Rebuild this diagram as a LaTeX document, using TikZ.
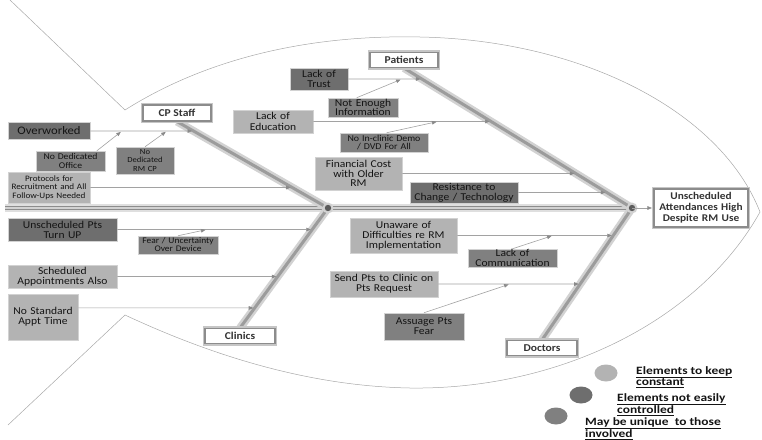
\documentclass[tikz,border=0pt]{standalone}
\usepackage{fontspec}
\setmainfont{Carlito}[FakeStretch=1.1]
\newfontfamily\legfont{Carlito}[FakeStretch=1.2]
\usetikzlibrary{arrows.meta,calc,backgrounds}
\definecolor{cdark}{HTML}{6E6E6E}
\definecolor{cmed}{HTML}{808080}
\definecolor{clight}{HTML}{B3B3B3}
\definecolor{cline}{HTML}{A2A2A2}
\definecolor{ctip}{HTML}{8A8A8A}
\definecolor{ctext}{HTML}{141414}
\definecolor{cborder}{HTML}{D2D2D2}
\definecolor{ccat}{HTML}{8C8C8C}
\definecolor{chalo}{HTML}{C6C6C6}
\definecolor{cbone}{HTML}{9C9C9C}
\definecolor{cbonehalo}{HTML}{D2D2D2}
\definecolor{coutl}{HTML}{A8A8A8}
\definecolor{cblob}{HTML}{5C5C5C}
\begin{document}
\begin{tikzpicture}[x=1pt,y=-1pt,
  box/.style={draw=cborder, line width=0.5pt, inner xsep=0pt, inner ysep=0pt,
    align=center, text=ctext, font=\fontsize{10.5}{9.8}\selectfont},
  dk/.style={box, fill=cdark},
  md/.style={box, fill=cmed},
  lt/.style={box, fill=clight},
  cat/.style={draw=ccat, line width=1.1pt, fill=white,
    preaction={draw=chalo, line width=4.5pt},
    inner sep=0pt, align=center, text=black!80,
    font=\bfseries\fontsize{10.5}{10}\selectfont},
  bone/.style={draw=cbone, line width=3pt,
    preaction={draw=cbonehalo, line width=8pt}},
  spine/.style={draw=ccat, line width=1.4pt, double=cbonehalo, double distance=1.6pt,
    preaction={draw=cbonehalo!70, line width=8pt}},
  arr/.style={draw=cline, line width=0.6pt,
    -{Triangle[length=4.5pt,width=3.6pt,color=ctip]}, shorten >=1.5pt},
  outl/.style={draw=coutl, line width=0.5pt},
  leg/.style={align=left, inner sep=0pt, text=ctext,
    font=\legfont\bfseries\fontsize{11.2}{11.5}\selectfont}
]
\useasboundingbox (0,0) rectangle (762,439);

% ---------- cause boxes ----------
\node[dk, text width=82pt, minimum height=17pt, font=\fontsize{11.5}{10}\selectfont] (ow) at (49,131) {Overworked};
\node[md, text width=69pt, minimum height=20pt, font=\fontsize{8.8}{8.5}\selectfont] (ndo) at (70.5,161) {No Dedicated\\Office};
\node[md, text width=58pt, minimum height=27pt, font=\fontsize{7.8}{8.3}\selectfont] (nrm) at (145,160.5) {No\\Dedicated\\RM CP};
\node[lt, text width=82pt, minimum height=31pt, font=\fontsize{8.3}{8.5}\selectfont] (prot) at (49,187.5) {Protocols for\\Recruitment and All\\Follow-Ups Needed};

\node[dk, text width=58pt, minimum height=22pt] (lot) at (319,79) {Lack of\\Trust};
\node[md, text width=70pt, minimum height=19pt, font=\fontsize{10.5}{9.3}\selectfont] (nei) at (363,107.5) {Not Enough\\Information};
\node[lt, text width=80pt, minimum height=23pt, font=\fontsize{10.5}{10.5}\selectfont] (loe) at (273,121.5) {Lack of\\Education};
\node[md, text width=88pt, minimum height=19pt, font=\fontsize{9}{8.3}\selectfont] (demo) at (384,142.5) {No In-clinic Demo\\/ DVD For All};
\node[lt, text width=87pt, minimum height=33pt] (fin) at (358.5,173.5) {Financial Cost\\with Older\\RM};
\node[dk, text width=108pt, minimum height=21pt] (res) at (464,192.5) {Resistance to\\Change / Technology};

\node[dk, text width=109pt, minimum height=23pt] (ups) at (62.5,229.5) {Unscheduled Pts\\Turn UP};
\node[md, text width=80pt, minimum height=18pt, font=\fontsize{8.6}{8}\selectfont] (fear) at (178,245) {Fear / Uncertainty\\Over Device};
\node[lt, text width=109pt, minimum height=23pt] (sch) at (62.5,276.5) {Scheduled\\Appointments Also};
\node[lt, text width=70pt, minimum height=46pt] (nst) at (43,317) {No Standard\\Appt Time};

\node[lt, text width=107pt, minimum height=35pt] (una) at (403.5,235.5) {Unaware of\\Difficulties re RM\\Implementation};
\node[md, text width=89pt, minimum height=18pt] (loc) at (512.5,258) {Lack of\\Communication};
\node[lt, text width=108pt, minimum height=26pt] (send) at (384,284) {Send Pts to Clinic on\\Pts Request};
\node[md, text width=80pt, minimum height=27pt] (ass) at (424,326.5) {Assuage Pts\\Fear};

% ---------- category boxes ----------
\node[cat, minimum width=68pt, minimum height=16pt] (cps) at (177,113) {CP Staff};
\node[cat, minimum width=68pt, minimum height=15pt] (pat) at (404,60) {Patients};
\node[cat, minimum width=70pt, minimum height=15pt] (cli) at (240,336) {Clinics};
\node[cat, minimum width=70pt, minimum height=15pt] (doc) at (542,348) {Doctors};
\node[cat, text width=94pt, minimum height=38pt, font=\bfseries\fontsize{10.3}{11}\selectfont] (head) at (701,208) {Unscheduled\\Attendances High\\Despite RM Use};

% ---------- skeleton ----------
\coordinate (J1) at (328,208);
\coordinate (J2) at (632,208);
\coordinate (sp0) at (5,208);

\begin{scope}[on background layer]
  \draw[outl] (10,0) -- (125,110)
    .. controls (220,50) and (330,35) .. (420,37)
    .. controls (580,40) and (720,110) .. (760,212)
    .. controls (700,320) and (560,390) .. (410,388)
    .. controls (300,386) and (200,350) .. (125,315) -- (8,425);
  \draw[spine] (sp0) -- (J2);
  \draw[bone] (cps.south) -- (J1);
  \draw[bone] (cli.north) -- (J1);
  \draw[bone] (pat.south) -- (J2);
  \draw[bone] (doc.north) -- (J2);
  \fill[cbonehalo] (J1) circle (5.5pt);
  \fill[cbonehalo] (J2) circle (5.5pt);
  \fill[cblob] (J1) circle (3.2pt);
  \fill[cblob] (J2) circle (3.2pt);
\end{scope}

\draw[arr] (J2) -- (head.west);

% ---------- CP staff branch ----------
\coordinate (owA) at (122,131);
\coordinate (owB) at (167,131);
\draw[arr] (ow.east) -- (intersection of cps.south--J1 and ow.east--ow.west);
\draw[arr] ($(ndo.north west)!0.88!(ndo.north east)$) -- (owA);
\draw[arr] (nrm.north) -- (owB);
\draw[arr] (prot.east) -- (intersection of cps.south--J1 and prot.east--prot.west);

% ---------- Patients branch ----------
\coordinate (lotA) at (402,79);
\coordinate (loeA) at (438,121.5);
\draw[arr] (lot.east) -- (intersection of pat.south--J2 and lot.east--lot.west);
\draw[arr] ($(nei.north west)!0.41!(nei.north east)$) -- (lotA);
\draw[arr] (loe.east) -- (intersection of pat.south--J2 and loe.east--loe.west);
\draw[arr] ($(demo.north west)!0.53!(demo.north east)$) -- (loeA);
\draw[arr] (fin.east) -- (intersection of pat.south--J2 and fin.east--fin.west);
\draw[arr] (res.east) -- (intersection of pat.south--J2 and res.east--res.west);

% ---------- Clinics branch ----------
\coordinate (upsA) at (207,229.5);
\coordinate (nstA) at ($(nst.north east)!0.3043!(nst.south east)$);
\coordinate (nstB) at ($(nst.north west)!0.3043!(nst.south west)$);
\draw[arr] (ups.east) -- (intersection of cli.north--J1 and ups.east--ups.west);
\draw[arr] (fear.north) -- (upsA);
\draw[arr] (sch.east) -- (intersection of cli.north--J1 and sch.east--sch.west);
\draw[arr] (nstA) -- (intersection of cli.north--J1 and nstA--nstB);

% ---------- Doctors branch ----------
\coordinate (unaA) at (553,235.5);
\coordinate (sendA) at (510,284);
\draw[arr] (una.east) -- (intersection of doc.north--J2 and una.east--una.west);
\draw[arr] (loc.north) -- (unaA);
\draw[arr] (send.east) -- (intersection of doc.north--J2 and send.east--send.west);
\draw[arr] (ass.north) -- (sendA);

% ---------- legend ----------
\fill[clight] (606,373) ellipse [x radius=11.5pt, y radius=8.5pt];
\fill[cdark] (581,395) ellipse [x radius=11.5pt, y radius=8.5pt];
\fill[cmed] (556,416) ellipse [x radius=11.5pt, y radius=8.5pt];
\node[leg, anchor=north west] (l1) at (636,366) {\underline{Elements to keep}\\\underline{constant}};
\node[leg, anchor=north west] (l2) at (617,393) {\underline{Elements not easily}\\\underline{controlled}};
\node[leg, anchor=north west] (l3) at (585,417) {\underline{May be unique\ \ to those}\\\underline{involved}};
\end{tikzpicture}
\end{document}
